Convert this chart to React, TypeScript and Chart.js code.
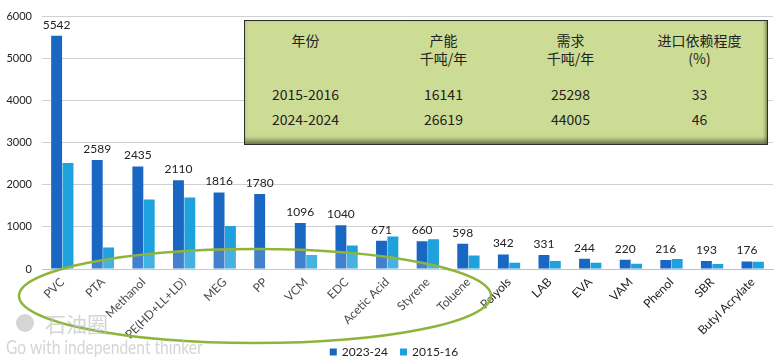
import React, { useEffect, useRef } from "react";
import { Chart, registerables } from "chart.js";

Chart.register(...registerables);

const categories = [
  "PVC", "PTA", "Methanol", "PE(HD+LL+LD)", "MEG", "PP", "VCM", "EDC",
  "Acetic Acid", "Styrene", "Toluene", "Polyols", "LAB", "EVA", "VAM",
  "Phenol", "SBR", "Butyl Acrylate",
];
const series2324 = [5542, 2589, 2435, 2110, 1816, 1780, 1096, 1040, 671, 660, 598, 342, 331, 244, 220, 216, 193, 176];
const series1516 = [2520, 510, 1650, 1700, 1020, null, 330, 560, 770, 710, 320, 150, 190, 150, 125, 235, 120, 170];
const seriesNames = ["2023-24", "2015-16"];
const yTicks = [0, 1000, 2000, 3000, 4000, 5000, 6000];

const tableHeader = [
  ["年份", ""],
  ["产能", "千吨/年"],
  ["需求", "千吨/年"],
  ["进口依赖程度", "(%)"],
];
const tableRows = [
  ["2015-2016", "16141", "25298", "33"],
  ["2024-2024", "26619", "44005", "46"],
];

const DARK = "#1a66c3";
const LIGHT = "#1ea1dc";
const FONT = "Lato, 'Open Sans', sans-serif";
const CJK = "'Noto Sans CJK SC', sans-serif";

const labelPlugin = {
  id: "valueLabels",
  afterDatasetsDraw(chart: any) {
    const ctx = chart.ctx;
    // ellipse highlight
    ctx.save();
    ctx.beginPath();
    ctx.ellipse(255, 296, 236, 47, 0, 0, Math.PI * 2);
    ctx.fillStyle = "rgba(255,255,255,0.18)";
    ctx.fill();
    ctx.lineWidth = 2.5;
    ctx.strokeStyle = "#8fb43c";
    ctx.stroke();
    ctx.restore();

    const meta = chart.getDatasetMeta(0);
    ctx.save();
    ctx.font = "12px " + FONT;
    ctx.fillStyle = "#222";
    ctx.textAlign = "center";
    ctx.textBaseline = "bottom";
    meta.data.forEach((bar: any, i: number) => {
      const v = chart.data.datasets[0].data[i];
      ctx.fillText(String(v), bar.x, bar.y - 5);
    });
    ctx.restore();
  },
  afterDraw(chart: any) {
    const ctx = chart.ctx;
    // watermark
    ctx.save();
    ctx.fillStyle = "rgba(195,195,195,0.7)";
    ctx.font = "21px " + CJK;
    ctx.textBaseline = "middle";
    ctx.fillText("石油圈", 45, 324);
    ctx.beginPath();
    ctx.arc(25, 323, 9, 0, Math.PI * 2);
    ctx.fill();
    ctx.translate(6, 348);
    ctx.scale(0.82, 1);
    ctx.font = "19px " + FONT;
    ctx.fillText("Go with independent thinker", 0, 0);
    ctx.restore();

    // legend
    ctx.save();
    ctx.font = "12px " + FONT;
    ctx.textBaseline = "middle";
    const ds = chart.data.datasets;
    const gap = 12;
    const widths = ds.map((d: any) => 7 + 5 + ctx.measureText(d.label).width);
    const total = widths.reduce((a: number, b: number) => a + b, 0) + gap * (ds.length - 1);
    let x = 394 - total / 2;
    const y = 352;
    ds.forEach((d: any, i: number) => {
      ctx.fillStyle = d.backgroundColor;
      ctx.fillRect(x, y - 3.5, 7, 7);
      ctx.fillStyle = "#222";
      ctx.fillText(d.label, x + 12, y);
      x += widths[i] + gap;
    });
    ctx.restore();
  },
};

export default function App() {
  const ref = useRef<HTMLCanvasElement>(null);
  useEffect(() => {
    document.body.style.margin = "0";
    const chart = new Chart(ref.current as HTMLCanvasElement, {
      type: "bar",
      data: {
        labels: categories,
        datasets: [
          { label: seriesNames[0], data: series2324, backgroundColor: DARK, barPercentage: 0.96, categoryPercentage: 0.56 },
          { label: seriesNames[1], data: series1516 as any, backgroundColor: LIGHT, barPercentage: 0.96, categoryPercentage: 0.56 },
        ],
      },
      options: {
        animation: false,
        responsive: false,
        maintainAspectRatio: false,
        layout: { padding: { top: 13, right: 2, left: 0, bottom: 0 } },
        plugins: {
          legend: { display: false },
          tooltip: { enabled: false },
        },
        scales: {
          x: {
            grid: { display: false, drawTicks: false },
            border: { color: "#bfbfbf", width: 1 },
            ticks: {
              font: { family: FONT, size: 12 },
              color: "#222",
              maxRotation: 45,
              minRotation: 45,
              autoSkip: false,
              padding: 6,
            },
            afterFit(scale: any) {
              scale.height = scale.chart.height - 269;
            },
          },
          y: {
            min: 0,
            max: 6000,
            afterBuildTicks(scale: any) {
              scale.ticks = yTicks.map((v) => ({ value: v }));
            },
            grid: { color: "#d0d0d0", drawTicks: false, lineWidth: 1 },
            border: { display: false },
            ticks: {
              font: { family: FONT, size: 11 },
              color: "#222",
              padding: 10,
              callback: (v: any) => String(v),
            },
            afterFit(scale: any) {
              scale.width = 42;
            },
          },
        },
      },
      plugins: [labelPlugin],
    });
    return () => chart.destroy();
  }, []);

  const boxLeft = 244;
  const cols = [306, 444, 571, 700];
  return (
    <div style={{ position: "fixed", left: 0, top: 0, width: 775, height: 361, background: "#fff" }}>
      <canvas ref={ref} width={775} height={361} style={{ width: 775, height: 361 }} />
      <div
        style={{
          position: "absolute",
          left: boxLeft,
          top: 20,
          width: 524,
          height: 125,
          boxSizing: "border-box",
          background: "#cddc95",
          border: "1.5px solid #2e2e2e",
          boxShadow: "inset 0 -6px 5px -2px rgba(40,50,20,0.55), inset -3px 0 3px -1px rgba(40,50,20,0.35)",
          fontFamily: CJK,
          fontSize: 14,
          color: "#222",
        }}
      >
        {tableHeader.map((h, i) => (
          <div key={"h" + i} style={{ position: "absolute", left: cols[i] - boxLeft - 1.5 - 60, width: 120, top: 10, textAlign: "center", lineHeight: "18px" }}>
            <div>{h[0]}</div>
            <div>{h[1]}</div>
          </div>
        ))}
        {tableRows.map((r, ri) =>
          r.map((c, ci) => (
            <div key={ri + "-" + ci} style={{ position: "absolute", left: cols[ci] - boxLeft - 1.5 - 60, width: 120, top: 64 + ri * 25, textAlign: "center", lineHeight: "18px" }}>
              {c}
            </div>
          ))
        )}
      </div>
    </div>
  );
}
